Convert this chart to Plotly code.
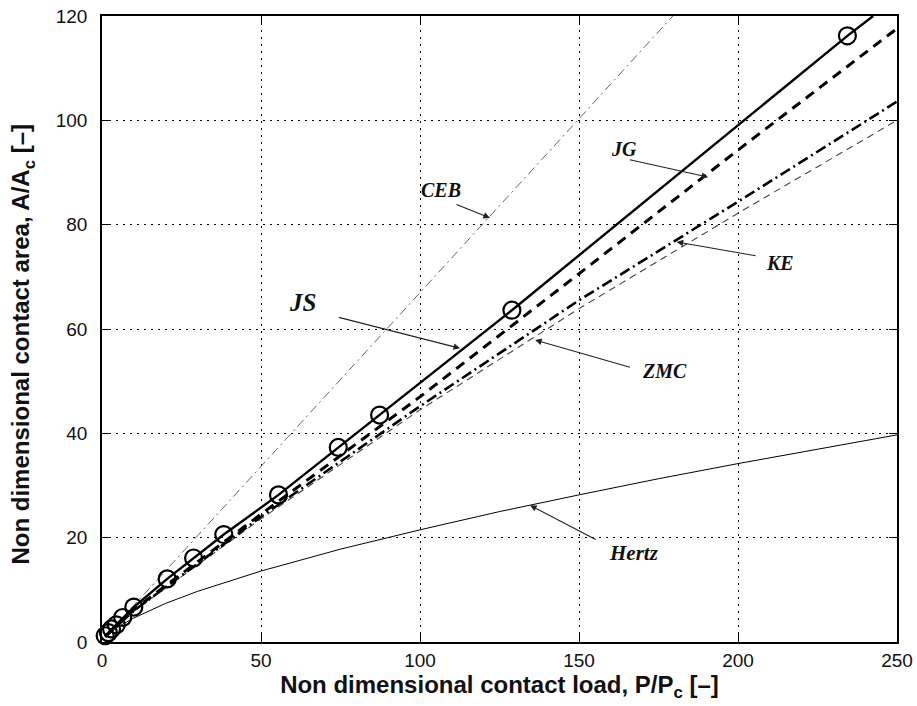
import plotly.graph_objects as go

# ---- data ----
js_P = [1.0, 2.0, 3.0, 4.5, 6.5, 10.0, 20.5, 28.8, 38.3, 55.5, 74.3, 87.3, 128.9, 234.4]
js_A = [1.2, 1.8, 2.5, 3.3, 4.7, 6.7, 12.1, 16.1, 20.6, 28.2, 37.3, 43.5, 63.6, 116.2]
js_line_P = js_P + [242.5]
js_line_A = js_A + [120.0]

jg_P = [1, 10, 50, 100, 150, 200, 250]
jg_A = [1.0, 6.2, 24.5, 47.0, 70.6, 94.3, 117.6]

ke_P = [1, 10, 50, 100, 150, 200, 250]
ke_A = [1.0, 6.0, 24.0, 45.2, 65.5, 84.4, 103.6]

zmc_P = [1, 10, 50, 100, 150, 200, 250]
zmc_A = [1.0, 5.9, 23.6, 44.5, 63.9, 82.2, 100.0]

ceb_P = [1, 50, 100, 150, 181]
ceb_A = [1.0, 33.6, 67.0, 100.3, 121.0]

hertz_P = [1, 2, 5, 10, 20, 30, 50, 75, 100, 125, 150, 175, 200, 225, 250]
hertz_A = [1.0, 1.6, 2.9, 4.6, 7.4, 9.7, 13.6, 17.8, 21.5, 25.0, 28.2, 31.3, 34.2, 37.0, 39.7]

x_ticks = [0, 50, 100, 150, 200, 250]
y_ticks = [0, 20, 40, 60, 80, 100, 120]

x_title = "<b>Non dimensional contact load, P/P<sub>c</sub> [–]</b>"
y_title = "<b>Non dimensional contact area, A/A<sub>c</sub> [–]</b>"

# labels: (text, label x, label y, arrow tail x, arrow tail y, arrow tip x, arrow tip y, size)
labels = [
    ("CEB", 106.6, 86.6, 111.0, 84.0, 122.0, 81.3, 20),
    ("JG", 164.2, 94.5, 165.5, 92.5, 190.6, 89.1, 20),
    ("KE", 213.2, 72.6, 206.0, 74.0, 180.7, 76.7, 20),
    ("ZMC", 177.0, 52.0, 166.5, 52.6, 136.2, 57.9, 20),
    ("JS", 62.9, 65.0, 74.0, 62.3, 112.6, 56.3, 25),
    ("Hertz", 167.2, 17.0, 155.7, 19.5, 134.6, 26.2, 21),
]

fig = go.Figure()

fig.add_trace(go.Scatter(x=hertz_P, y=hertz_A, mode="lines",
                         line=dict(color="black", width=1), showlegend=False))
fig.add_trace(go.Scatter(x=ceb_P, y=ceb_A, mode="lines",
                         line=dict(color="#666666", width=1, dash="9px,4px,2px,4px"),
                         showlegend=False))
fig.add_trace(go.Scatter(x=zmc_P, y=zmc_A, mode="lines",
                         line=dict(color="#444444", width=1.1, dash="7px,5px"),
                         showlegend=False))
fig.add_trace(go.Scatter(x=ke_P, y=ke_A, mode="lines",
                         line=dict(color="black", width=2.6, dash="11px,4px,2px,4px"),
                         showlegend=False))
fig.add_trace(go.Scatter(x=jg_P, y=jg_A, mode="lines",
                         line=dict(color="black", width=3, dash="10px,7px"),
                         showlegend=False))
fig.add_trace(go.Scatter(x=js_line_P, y=js_line_A, mode="lines",
                         line=dict(color="black", width=2.4), showlegend=False))
fig.add_trace(go.Scatter(x=js_P, y=js_A, mode="markers",
                         marker=dict(symbol="circle-open", size=17, color="black",
                                     line=dict(width=2.2, color="black")),
                         showlegend=False, cliponaxis=False))

for text, lx, ly, tx, ty, hx, hy, sz in labels:
    fig.add_annotation(x=lx, y=ly, xref="x", yref="y", text="<b><i>%s</i></b>" % text,
                       showarrow=False,
                       font=dict(family="Liberation Serif", size=sz, color="#111111"))
    fig.add_annotation(x=hx, y=hy, ax=tx, ay=ty, xref="x", yref="y", axref="x", ayref="y",
                       text="", showarrow=True, arrowhead=2, arrowsize=1.2,
                       arrowwidth=1.1, arrowcolor="#222222")

# y-axis title placed as rotated text left of the tick labels
fig.add_annotation(x=-0.1, y=0.476, xref="paper", yref="paper", text=y_title,
                   textangle=-90, showarrow=False, xanchor="center", yanchor="middle",
                   font=dict(family="Liberation Sans", size=24, color="#111111"))

axis_common = dict(
    showline=True, linecolor="black", linewidth=1.5, mirror="ticks",
    ticks="inside", ticklen=8, tickwidth=1.3, tickcolor="black",
    showgrid=True, gridcolor="black", gridwidth=1, griddash="2px,5px",
    zeroline=False, automargin=False,
    tickfont=dict(family="Liberation Sans", size=19, color="#111111"),
)

fig.update_xaxes(range=[0, 250], tickvals=x_ticks,
                 title=dict(text=x_title,
                            font=dict(family="Liberation Sans", size=24, color="#111111"),
                            standoff=5),
                 **axis_common)
fig.update_yaxes(range=[0, 120], tickvals=y_ticks, ticklabelstandoff=9,
                 **axis_common)

fig.update_layout(
    width=917, height=706,
    margin=dict(l=102, r=20, t=16, b=64),
    plot_bgcolor="white", paper_bgcolor="white",
    showlegend=False,
)

fig.write_html("out.html")
